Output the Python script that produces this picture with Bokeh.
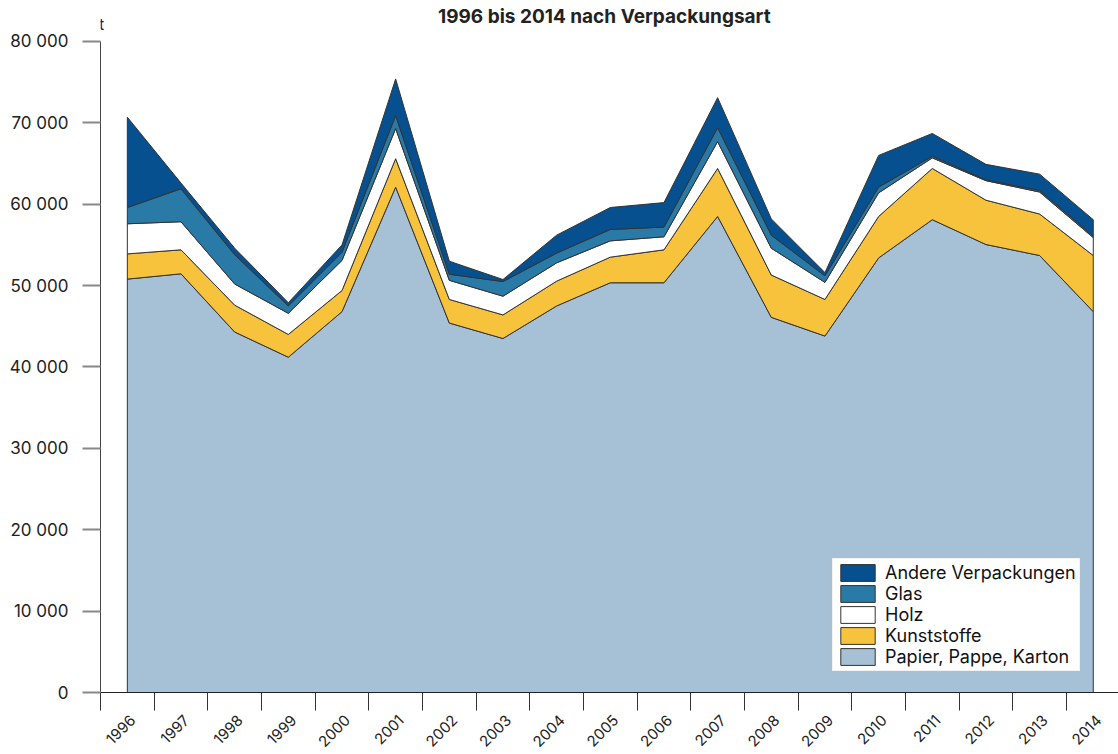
from math import pi
from bokeh.plotting import figure
from bokeh.models import FixedTicker, Legend, LegendItem, Range1d, Label
from bokeh.embed import file_html
from bokeh.resources import INLINE

years = list(range(1996, 2015))
papier = [50800, 51450, 44300, 41200, 46800, 62100, 45400, 43500, 47500, 50350,
          50350, 58500, 46100, 43800, 53400, 58100, 55050, 53700, 46800]
kunststoffe = [3100, 2950, 3300, 2800, 2600, 3500, 2900, 2900, 3050, 3150,
               4050, 5900, 5200, 4500, 5100, 6300, 5450, 5100, 6900]
holz = [3700, 3450, 2600, 2600, 3700, 3700, 2350, 2300, 2250, 2000,
        1600, 3300, 3300, 2100, 2900, 1300, 2400, 2700, 2200]
glas = [2000, 4050, 3600, 900, 1000, 1600, 750, 1800, 1200, 1400,
        1200, 1700, 1600, 800, 700, 200, 100, 200, 200]
andere = [11100, 700, 800, 400, 900, 4500, 1600, 250, 2200, 2700,
          3000, 3700, 2000, 400, 3900, 2800, 1900, 2000, 2000]

series_names = ["Papier, Pappe, Karton", "Kunststoffe", "Holz", "Glas", "Andere Verpackungen"]
series_values = [papier, kunststoffe, holz, glas, andere]
series_colors = ["#a6c1d6", "#f8c33c", "#ffffff", "#2a7aa7", "#07508f"]
y_ticks = list(range(0, 80001, 10000))
y_axis_max = 80000
title_text = "1996 bis 2014 nach Verpackungsart"
unit_text = "t"

FONT = "Inter"

# frame spans the full height above the x axis; the y axis itself stops at 80 000
p = figure(width=1118, height=754, output_backend="svg", toolbar_location=None,
           x_range=Range1d(1995.5, 2014.47), y_range=Range1d(0, 85038),
           min_border_left=100, min_border_right=0, min_border_top=0, min_border_bottom=62)
p.title = None
p.outline_line_color = None
p.xgrid.visible = False
p.ygrid.visible = False
p.background_fill_color = "white"

bottom = [0] * len(years)
rends = []
for name, vals, color in zip(series_names, series_values, series_colors):
    top = [b + v for b, v in zip(bottom, vals)]
    xs = years + years[::-1]
    ys = top + bottom[::-1]
    r = p.patch(xs, ys, fill_color=color, line_color="#333333", line_width=1)
    rends.append((name, r))
    bottom = top

# x axis: ticks between years, labels at years
label_pos = [y + 0.1 for y in years]
xa = p.xaxis[0]
xa.ticker = FixedTicker(ticks=label_pos, minor_ticks=[y - 0.5 for y in years])
xa.major_label_overrides = {pos: str(y) for pos, y in zip(label_pos, years)}
xa.major_tick_line_color = None
xa.major_tick_out = 0
xa.major_tick_in = 0
xa.minor_tick_out = 18
xa.minor_tick_in = 0
xa.minor_tick_line_color = "#333333"
xa.axis_line_color = "#222222"
xa.major_label_orientation = pi / 4
xa.major_label_standoff = 7
xa.major_label_text_font = FONT
xa.major_label_text_font_size = "15px"
xa.major_label_text_color = "#222222"

ya = p.yaxis[0]
ya.ticker = FixedTicker(ticks=y_ticks)
ya.bounds = (0, y_axis_max)
ya.major_label_overrides = {v: f"{v:,}".replace(",", " ") for v in y_ticks}
ya.axis_line_color = "#444444"
ya.major_tick_line_color = "#888888"
ya.major_tick_line_width = 2
ya.major_tick_out = 18
ya.major_tick_in = 0
ya.minor_tick_line_color = None
ya.major_label_standoff = 14
ya.major_label_text_font = FONT
ya.major_label_text_font_size = "17px"
ya.major_label_text_color = "#222222"

# unit label and title line (inside the frame's top band)
p.add_layout(Label(x=1995.5, y=y_axis_max, x_offset=1, y_offset=17, text=unit_text,
                   text_align="center", text_baseline="alphabetic", text_font=FONT,
                   text_font_size="16px", text_color="#222222"))
p.add_layout(Label(x=2005, y=y_axis_max, x_offset=-6, y_offset=25, text=title_text,
                   text_align="center", text_baseline="alphabetic", text_font=FONT,
                   text_font_size="19px", text_font_style="bold", text_color="#222222"))

items = [LegendItem(label=n, renderers=[r]) for n, r in rends[::-1]]
legend = Legend(items=items, location=(732, 21), padding=3, spacing=0, margin=0,
                glyph_width=43, glyph_height=21, label_height=21, label_standoff=6,
                label_text_font=FONT, label_text_font_size="18px", label_text_color="#111111",
                border_line_color="#e6e6e6", background_fill_color="white", background_fill_alpha=1)
p.add_layout(legend)

open("out.html", "w").write(file_html(p, INLINE))
